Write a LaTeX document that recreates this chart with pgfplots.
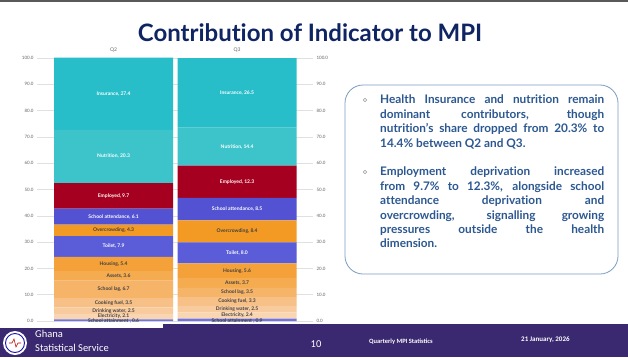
\documentclass[border=0pt]{standalone}
\usepackage{pgfplots}
\pgfplotsset{compat=1.18}
\usepackage{fontspec}
\setmainfont{Lato}[Ligatures=NoCommon]
\newfontfamily\carlito{Carlito}
\definecolor{cIns}{HTML}{28BEC9}
\definecolor{cNut}{HTML}{3CC4CA}
\definecolor{cEmp}{HTML}{A5001F}
\definecolor{cAtt}{HTML}{5252D2}
\definecolor{cOver}{HTML}{F39A25}
\definecolor{cToil}{HTML}{5A5DD7}
\definecolor{cHous}{HTML}{F4A139}
\definecolor{cAss}{HTML}{F5AB50}
\definecolor{cLag}{HTML}{F6B468}
\definecolor{cCook}{HTML}{F7C086}
\definecolor{cWat}{HTML}{F8CB9E}
\definecolor{cElec}{HTML}{F9D5B2}
\definecolor{cAttn}{HTML}{7074DC}
\definecolor{cFoot}{HTML}{3A2870}
\definecolor{cTitle}{HTML}{0F2463}
\definecolor{cText}{HTML}{2C5891}
\definecolor{cBorder}{HTML}{7C9DC2}
\hbadness=10000
\hfuzz=20pt
\begin{document}
\begin{tikzpicture}[x=1pt,y=1pt,
  wl/.style={font=\bfseries\fontsize{5}{6}\selectfont, text=white, inner sep=0pt},
  dl/.style={font=\bfseries\fontsize{5}{6}\selectfont, text=black!75, inner sep=0pt}]
\fill[white] (0,0) rectangle (628,357);
\fill[black!65] (0,355) rectangle (628,357);
% footer
\fill[cFoot] (0,0) rectangle (628,33);
\fill[white] (0,29) rectangle (163,33);
\fill[white] (15,14) circle (12);
\draw[cFoot!50!blue, line width=0.9pt] (15,14) circle (9.5);
\draw[red!70!black, line width=0.6pt] (9,14) -- (12,14) -- (14,18) -- (16,10) -- (18,14) -- (21,14);
\node[anchor=west, text=white, font=\carlito\fontsize{10.5}{12}\selectfont, inner sep=0pt] at (35,23) {Ghana};
\node[anchor=west, text=white, font=\carlito\fontsize{10.5}{12}\selectfont, inner sep=0pt] at (35,9) {Statistical Service};
\node[text=white, font=\carlito\fontsize{10.5}{12}\selectfont, inner sep=0pt] at (316,13) {10};
\node[anchor=west, text=white, font=\carlito\bfseries\fontsize{6.5}{8}\selectfont, inner sep=0pt] at (369,15) {Quarterly MPI Statistics};
\node[anchor=west, text=white, font=\carlito\bfseries\fontsize{7}{8}\selectfont, inner sep=0pt] at (521,17) {21 January, 2026};
% title
\node[text=cTitle, font=\bfseries\fontsize{24}{28}\selectfont, inner sep=0pt] at (310,324) {Contribution of Indicator to MPI};
% text box
\draw[cBorder, line width=0.8pt, rounded corners=18pt] (345,83) rectangle (618,272);
\draw[gray!80, line width=0.5pt] (365,257) circle (1.8);
\draw[gray!80, line width=0.5pt] (365,185) circle (1.8);
\node[anchor=north west, text width=224pt, align=justify, inner sep=0pt, text=cText,
  font=\bfseries\fontsize{11.8}{14.4}\selectfont] at (380,262)
  {Health Insurance and nutrition remain\linebreak dominant contributors, though\linebreak nutrition’s share dropped from 20.3\% to\linebreak 14.4\% between Q2 and Q3.};
\node[anchor=north west, text width=224pt, align=justify, inner sep=0pt, text=cText,
  font=\bfseries\fontsize{11.8}{14.4}\selectfont] at (380,190)
  {Employment deprivation increased\linebreak from 9.7\% to 12.3\%, alongside school\linebreak attendance deprivation and\linebreak overcrowding, signalling growing\linebreak pressures outside the health\linebreak dimension.};
% chart
\begin{axis}[
  at={(37pt,36pt)}, anchor=south west,
  scale only axis, width=276pt, height=263pt,
  ybar stacked, bar width=0.964,
  xmin=-0.62, xmax=1.615, ymin=0, ymax=100,
  xtick=\empty,
  ytick={0,10,20,30,40,50,60,70,80,90,100},
  ymajorgrids, grid style={black!12, line width=0.6pt},
  axis line style={draw=none},
  major tick length=0pt,
  clip=false,
  yticklabel style={font=\fontsize{4.5}{5}\selectfont, text=black!60,
    /pgf/number format/fixed, /pgf/number format/fixed zerofill,
    /pgf/number format/precision=1, /pgf/number format/assume math mode=true},
]
\addplot[fill=cAttn, draw=none] coordinates {(0,0.6) (1,0.9)};
\addplot[fill=cElec, draw=none] coordinates {(0,2.1) (1,2.4)};
\addplot[fill=cWat, draw=none] coordinates {(0,2.5) (1,2.5)};
\addplot[fill=cCook, draw=none] coordinates {(0,3.5) (1,3.3)};
\addplot[fill=cLag, draw=none] coordinates {(0,6.7) (1,3.5)};
\addplot[fill=cAss, draw=none] coordinates {(0,3.6) (1,3.7)};
\addplot[fill=cHous, draw=none] coordinates {(0,5.4) (1,5.6)};
\addplot[fill=cToil, draw=none] coordinates {(0,7.9) (1,8.0)};
\addplot[fill=cOver, draw=none] coordinates {(0,4.3) (1,8.4)};
\addplot[fill=cAtt, draw=none] coordinates {(0,6.1) (1,8.5)};
\addplot[fill=cEmp, draw=none] coordinates {(0,9.7) (1,12.3)};
\addplot[fill=cNut, draw=none] coordinates {(0,20.3) (1,14.4)};
\addplot[fill=cIns, draw=none] coordinates {(0,27.4) (1,26.5)};
\coordinate (a1) at (axis cs:0,-0.1);
\coordinate (a2) at (axis cs:0,1.7);
\coordinate (a3) at (axis cs:0,3.9);
\coordinate (a4) at (axis cs:0,6.95);
\coordinate (a5) at (axis cs:0,12.05);
\coordinate (a6) at (axis cs:0.04,17.2);
\coordinate (a7) at (axis cs:0,21.7);
\coordinate (a8) at (axis cs:0,28.35);
\coordinate (a9) at (axis cs:0,34.45);
\coordinate (a10) at (axis cs:0,39.65);
\coordinate (a11) at (axis cs:0,47.55);
\coordinate (a12) at (axis cs:0,62.55);
\coordinate (a13) at (axis cs:0,86.4);
\coordinate (b1) at (axis cs:1,0.0);
\coordinate (b2) at (axis cs:1,2.1);
\coordinate (b3) at (axis cs:1,4.55);
\coordinate (b4) at (axis cs:1,7.45);
\coordinate (b5) at (axis cs:1,10.85);
\coordinate (b6) at (axis cs:1,14.45);
\coordinate (b7) at (axis cs:1,19.1);
\coordinate (b8) at (axis cs:1,25.9);
\coordinate (b9) at (axis cs:1,34.1);
\coordinate (b10) at (axis cs:1,42.55);
\coordinate (b11) at (axis cs:1,52.95);
\coordinate (b12) at (axis cs:1,66.3);
\coordinate (b13) at (axis cs:1,86.75);
\coordinate (tq2) at (axis cs:0,103);
\coordinate (tq3) at (axis cs:1,103);
\end{axis}
\begin{axis}[
  at={(37pt,36pt)}, anchor=south west,
  scale only axis, width=276pt, height=263pt,
  xmin=-0.62, xmax=1.615, ymin=0, ymax=100,
  axis x line=none, axis y line*=right,
  axis line style={draw=none},
  xtick=\empty,
  ytick={0,10,20,30,40,50,60,70,80,90,100},
  major tick length=0pt,
  yticklabel style={font=\fontsize{4.5}{5}\selectfont, text=black!60,
    /pgf/number format/fixed, /pgf/number format/fixed zerofill,
    /pgf/number format/precision=1, /pgf/number format/assume math mode=true},
]
\end{axis}
% Q2 labels
\node[dl] at (a1) {School attainment , 0.6};
\node[dl] at (a2) {Electricity, 2.1};
\node[dl] at (a3) {Drinking water, 2.5};
\node[dl] at (a4) {Cooking fuel, 3.5};
\node[dl] at (a5) {School lag, 6.7};
\node[dl] at (a6) {Assets, 3.6};
\node[dl] at (a7) {Housing, 5.4};
\node[wl] at (a8) {Toilet, 7.9};
\node[dl] at (a9) {Overcrowding, 4.3};
\node[wl] at (a10) {School attendance, 6.1};
\node[wl] at (a11) {Employed, 9.7};
\node[wl] at (a12) {Nutrition, 20.3};
\node[wl] at (a13) {Insurance, 27.4};
% Q3 labels
\node[dl] at (b1) {School attainment , 0.9};
\node[dl] at (b2) {Electricity, 2.4};
\node[dl] at (b3) {Drinking water, 2.5};
\node[dl] at (b4) {Cooking fuel, 3.3};
\node[dl] at (b5) {School lag, 3.5};
\node[dl] at (b6) {Assets, 3.7};
\node[dl] at (b7) {Housing, 5.6};
\node[wl] at (b8) {Toilet, 8.0};
\node[dl] at (b9) {Overcrowding, 8.4};
\node[wl] at (b10) {School attendance, 8.5};
\node[wl] at (b11) {Employed, 12.3};
\node[wl] at (b12) {Nutrition, 14.4};
\node[wl] at (b13) {Insurance, 26.5};
\node[font=\fontsize{5}{6}\selectfont, text=black!60] at (tq2) {Q2};
\node[font=\fontsize{5}{6}\selectfont, text=black!60] at (tq3) {Q3};
\end{tikzpicture}
\end{document}
